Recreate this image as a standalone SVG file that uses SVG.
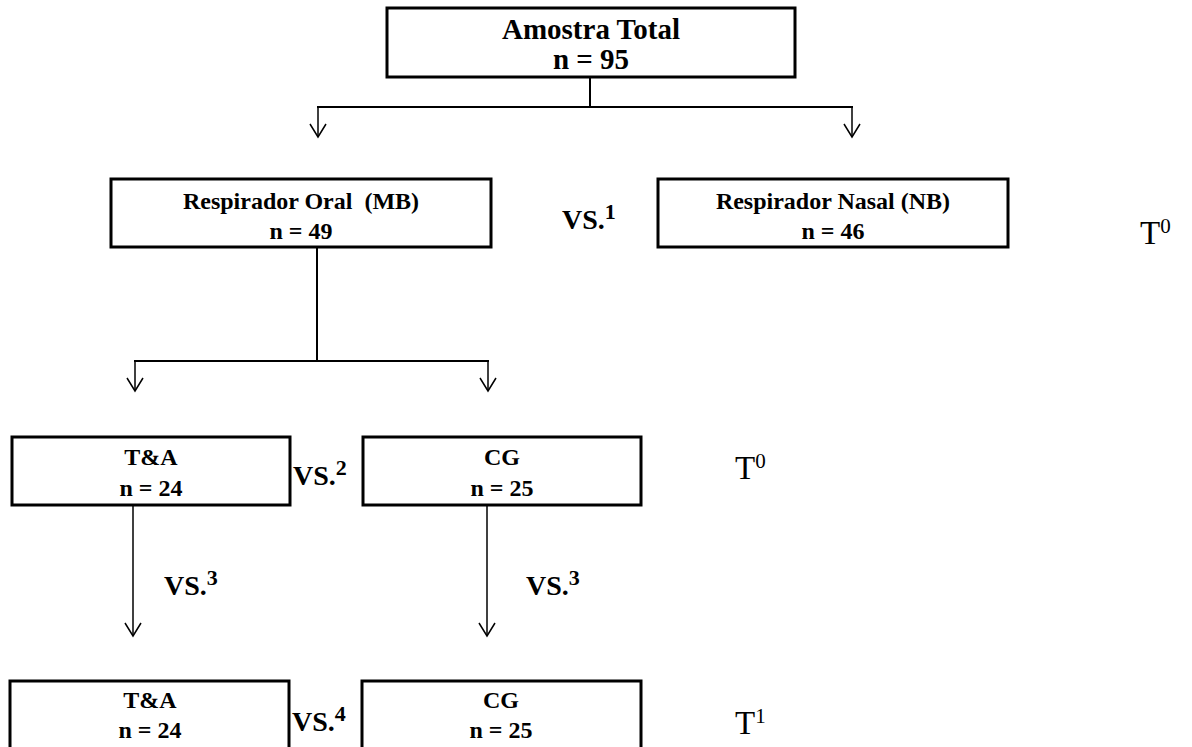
<svg xmlns="http://www.w3.org/2000/svg" width="1192" height="747" viewBox="0 0 1192 747">
<defs>
<marker id="arr" markerWidth="16" markerHeight="18" refX="14" refY="9" orient="auto" markerUnits="userSpaceOnUse" viewBox="0 0 16 18">
<path d="M1,1 L14,9 L1,17" fill="none" stroke="#000" stroke-width="1.5"/>
</marker>
</defs>
<style>
.box{fill:#fff;stroke:#000;stroke-width:3}
.t{font-family:"Liberation Serif","Times New Roman",serif;font-weight:bold;text-anchor:middle;fill:#000}
.big{font-size:29px}
.mid{font-size:24px}
.vs{font-family:"Liberation Serif","Times New Roman",serif;font-weight:bold;font-size:28px;fill:#000}
.tt{font-family:"Liberation Serif","Times New Roman",serif;font-size:33px;fill:#000}
.ln{stroke:#000;stroke-width:2;fill:none}
.ar{stroke:#000;stroke-width:1.5;fill:none;marker-end:url(#arr)}
</style>
<rect width="1192" height="747" fill="#fff"/>
<g id="connectors">
<line class="ln" x1="590" y1="77" x2="590" y2="107"/>
<line class="ln" x1="317" y1="107" x2="853" y2="107"/>
<line class="ar" x1="318" y1="107" x2="318" y2="137"/>
<line class="ar" x1="852" y1="107" x2="852" y2="137"/>
<line class="ln" x1="317" y1="247" x2="317" y2="361"/>
<line class="ln" x1="134" y1="361" x2="489" y2="361"/>
<line class="ar" x1="135" y1="361" x2="135" y2="391"/>
<line class="ar" x1="488" y1="361" x2="488" y2="391"/>
<line class="ar" x1="133" y1="505" x2="133" y2="636"/>
<line class="ar" x1="487" y1="505" x2="487" y2="636"/>
</g>
<g id="total">
<rect class="box" x="387" y="8" width="408" height="69"/>
<text class="t big" x="591" y="39">Amostra Total</text>
<text class="t big" x="591" y="69">n = 95</text>
</g>
<g id="oral">
<rect class="box" x="111" y="179" width="380" height="68"/>
<text class="t mid" x="301" y="209">Respirador Oral&#160; (MB)</text>
<text class="t mid" x="301" y="239">n = 49</text>
</g>
<g id="nasal">
<rect class="box" x="658" y="179" width="350" height="68"/>
<text class="t mid" x="833" y="209">Respirador Nasal (NB)</text>
<text class="t mid" x="833" y="239">n = 46</text>
</g>
<g id="ta0">
<rect class="box" x="12" y="437" width="278" height="68"/>
<text class="t mid" x="151" y="465">T&amp;A</text>
<text class="t mid" x="151" y="496">n = 24</text>
</g>
<g id="cg0">
<rect class="box" x="363" y="437" width="278" height="68"/>
<text class="t mid" x="502" y="465">CG</text>
<text class="t mid" x="502" y="496">n = 25</text>
</g>
<g id="ta1">
<rect class="box" x="10" y="681" width="279" height="80"/>
<text class="t mid" x="150" y="708">T&amp;A</text>
<text class="t mid" x="150" y="738">n = 24</text>
</g>
<g id="cg1">
<rect class="box" x="362" y="681" width="279" height="80"/>
<text class="t mid" x="501" y="708">CG</text>
<text class="t mid" x="501" y="738">n = 25</text>
</g>
<g id="labels">
<text class="vs" x="562" y="229">VS.<tspan dy="-10" font-size="22">1</tspan></text>
<text class="tt" x="1140" y="244">T<tspan dy="-11" font-size="21">0</tspan></text>
<text class="vs" x="293" y="485">VS.<tspan dy="-10" font-size="22">2</tspan></text>
<text class="tt" x="735" y="479">T<tspan dy="-11" font-size="21">0</tspan></text>
<text class="vs" x="164" y="595">VS.<tspan dy="-10" font-size="22">3</tspan></text>
<text class="vs" x="526" y="595">VS.<tspan dy="-10" font-size="22">3</tspan></text>
<text class="vs" x="292" y="731">VS.<tspan dy="-10" font-size="22">4</tspan></text>
<text class="tt" x="735" y="734">T<tspan dy="-11" font-size="21">1</tspan></text>
</g>
</svg>
